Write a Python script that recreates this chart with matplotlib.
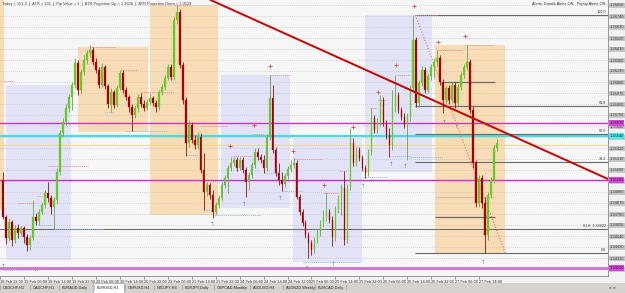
import numpy as np
import matplotlib.pyplot as plt
from matplotlib.patches import Rectangle

plt.rcParams['font.family'] = ['Liberation Sans', 'DejaVu Sans']

# EURUSD H1 candles (one per hour, oldest first)
opens = [1.3510, 1.3473, 1.3452, 1.3468, 1.3450, 1.3462, 1.3457, 1.3462, 1.3453, 1.3445,
         1.3452, 1.3473, 1.3469, 1.3478, 1.3485, 1.3497, 1.3492, 1.3483, 1.3490, 1.3518,
         1.3557, 1.3568, 1.3582, 1.3593, 1.3605, 1.3627, 1.3600, 1.3618, 1.3630, 1.3637,
         1.3640, 1.3628, 1.3620, 1.3605, 1.3623, 1.3604, 1.3586, 1.3598, 1.3585, 1.3602,
         1.3617, 1.3600, 1.3593, 1.3583, 1.3575, 1.3582, 1.3593, 1.3586, 1.3582, 1.3588,
         1.3592, 1.3587, 1.3583, 1.3598, 1.3603, 1.3612, 1.3623, 1.3613, 1.3670, 1.3678,
         1.3625, 1.3590, 1.3547, 1.3565, 1.3550, 1.3545, 1.3553, 1.3520, 1.3498, 1.3505,
         1.3495, 1.3478, 1.3485, 1.3492, 1.3505, 1.3512, 1.3522, 1.3527, 1.3530, 1.3522,
         1.3530, 1.3520, 1.3508, 1.3515, 1.3525, 1.3538, 1.3533, 1.3530, 1.3522, 1.3553,
         1.3592, 1.3540, 1.3517, 1.3510, 1.3506, 1.3514, 1.3521, 1.3525, 1.3527, 1.3493,
         1.3478, 1.3467, 1.3455, 1.3447, 1.3440, 1.3450, 1.3457, 1.3467, 1.3473, 1.3478,
         1.3470, 1.3453, 1.3480, 1.3492, 1.3502, 1.3450, 1.3503, 1.3547, 1.3527, 1.3540,
         1.3532, 1.3522, 1.3517, 1.3538, 1.3572, 1.3560, 1.3567, 1.3590, 1.3567, 1.3555,
         1.3545, 1.3583, 1.3595, 1.3580, 1.3573, 1.3565, 1.3573, 1.3602, 1.3650, 1.3587,
         1.3607, 1.3620, 1.3600, 1.3614, 1.3623, 1.3628, 1.3632, 1.3608, 1.3590, 1.3602,
         1.3590, 1.3605, 1.3587, 1.3603, 1.3615, 1.3623, 1.3628, 1.3580, 1.3527, 1.3487,
         1.3512, 1.3487, 1.3455, 1.3495, 1.3510, 1.3542]
highs = [1.3518, 1.3475, 1.3472, 1.3470, 1.3465, 1.3466, 1.3464, 1.3464, 1.3456, 1.3455,
         1.3490, 1.3477, 1.3481, 1.3488, 1.3500, 1.3508, 1.3495, 1.3493, 1.3522, 1.3560,
         1.3572, 1.3586, 1.3596, 1.3608, 1.3632, 1.3630, 1.3621, 1.3635, 1.3640, 1.3645,
         1.3643, 1.3632, 1.3623, 1.3627, 1.3625, 1.3606, 1.3602, 1.3600, 1.3605, 1.3620,
         1.3620, 1.3603, 1.3595, 1.3586, 1.3585, 1.3596, 1.3597, 1.3590, 1.3591, 1.3596,
         1.3594, 1.3590, 1.3600, 1.3606, 1.3615, 1.3626, 1.3626, 1.3673, 1.3685, 1.3681,
         1.3628, 1.3593, 1.3570, 1.3568, 1.3555, 1.3558, 1.3557, 1.3537, 1.3508, 1.3507,
         1.3500, 1.3488, 1.3495, 1.3508, 1.3515, 1.3525, 1.3533, 1.3533, 1.3533, 1.3533,
         1.3533, 1.3523, 1.3518, 1.3528, 1.3542, 1.3542, 1.3536, 1.3535, 1.3556, 1.3615,
         1.3605, 1.3543, 1.3527, 1.3518, 1.3517, 1.3524, 1.3530, 1.3532, 1.3530, 1.3496,
         1.3481, 1.3470, 1.3458, 1.3450, 1.3453, 1.3460, 1.3470, 1.3480, 1.3498, 1.3481,
         1.3474, 1.3484, 1.3495, 1.3506, 1.3519, 1.3506, 1.3562, 1.3552, 1.3543, 1.3543,
         1.3535, 1.3525, 1.3541, 1.3582, 1.3575, 1.3572, 1.3595, 1.3593, 1.3570, 1.3562,
         1.3600, 1.3615, 1.3598, 1.3583, 1.3577, 1.3577, 1.3605, 1.3675, 1.3653, 1.3610,
         1.3624, 1.3623, 1.3617, 1.3626, 1.3632, 1.3640, 1.3635, 1.3611, 1.3605, 1.3605,
         1.3608, 1.3608, 1.3606, 1.3618, 1.3626, 1.3645, 1.3631, 1.3584, 1.3530, 1.3515,
         1.3515, 1.3493, 1.3498, 1.3513, 1.3545, 1.3551]
lows = [1.3471, 1.3446, 1.3449, 1.3444, 1.3447, 1.3452, 1.3454, 1.3447, 1.3439, 1.3440,
        1.3450, 1.3465, 1.3465, 1.3476, 1.3482, 1.3488, 1.3476, 1.3461, 1.3486, 1.3515,
        1.3554, 1.3565, 1.3578, 1.3580, 1.3602, 1.3595, 1.3597, 1.3615, 1.3626, 1.3633,
        1.3625, 1.3617, 1.3602, 1.3603, 1.3601, 1.3582, 1.3578, 1.3582, 1.3583, 1.3600,
        1.3597, 1.3590, 1.3578, 1.3559, 1.3572, 1.3578, 1.3583, 1.3579, 1.3580, 1.3586,
        1.3584, 1.3578, 1.3580, 1.3595, 1.3600, 1.3610, 1.3610, 1.3610, 1.3666, 1.3622,
        1.3586, 1.3534, 1.3543, 1.3547, 1.3541, 1.3541, 1.3517, 1.3480, 1.3494, 1.3491,
        1.3472, 1.3476, 1.3482, 1.3489, 1.3502, 1.3497, 1.3519, 1.3524, 1.3519, 1.3520,
        1.3517, 1.3493, 1.3500, 1.3512, 1.3522, 1.3530, 1.3527, 1.3517, 1.3519, 1.3550,
        1.3537, 1.3514, 1.3505, 1.3499, 1.3503, 1.3511, 1.3518, 1.3522, 1.3491, 1.3475,
        1.3464, 1.3452, 1.3432, 1.3435, 1.3437, 1.3447, 1.3454, 1.3463, 1.3469, 1.3467,
        1.3444, 1.3449, 1.3477, 1.3475, 1.3445, 1.3447, 1.3500, 1.3524, 1.3524, 1.3529,
        1.3519, 1.3512, 1.3514, 1.3535, 1.3557, 1.3557, 1.3564, 1.3564, 1.3551, 1.3533,
        1.3540, 1.3578, 1.3577, 1.3570, 1.3562, 1.3530, 1.3569, 1.3598, 1.3583, 1.3583,
        1.3604, 1.3597, 1.3597, 1.3610, 1.3612, 1.3624, 1.3605, 1.3577, 1.3587, 1.3586,
        1.3587, 1.3582, 1.3584, 1.3600, 1.3612, 1.3620, 1.3577, 1.3522, 1.3483, 1.3483,
        1.3482, 1.3437, 1.3450, 1.3492, 1.3507, 1.3539]
closes = [1.3473, 1.3452, 1.3468, 1.3450, 1.3462, 1.3457, 1.3462, 1.3453, 1.3445, 1.3452,
          1.3473, 1.3469, 1.3478, 1.3485, 1.3497, 1.3492, 1.3483, 1.3490, 1.3518, 1.3557,
          1.3568, 1.3582, 1.3593, 1.3605, 1.3627, 1.3600, 1.3618, 1.3630, 1.3637, 1.3640,
          1.3628, 1.3620, 1.3605, 1.3623, 1.3604, 1.3586, 1.3598, 1.3585, 1.3602, 1.3617,
          1.3600, 1.3593, 1.3583, 1.3575, 1.3582, 1.3593, 1.3586, 1.3582, 1.3588, 1.3592,
          1.3587, 1.3583, 1.3598, 1.3603, 1.3612, 1.3623, 1.3613, 1.3670, 1.3678, 1.3625,
          1.3590, 1.3547, 1.3565, 1.3550, 1.3545, 1.3553, 1.3520, 1.3498, 1.3505, 1.3495,
          1.3478, 1.3485, 1.3492, 1.3505, 1.3512, 1.3522, 1.3527, 1.3530, 1.3522, 1.3530,
          1.3520, 1.3508, 1.3515, 1.3525, 1.3538, 1.3533, 1.3530, 1.3522, 1.3553, 1.3592,
          1.3540, 1.3517, 1.3510, 1.3506, 1.3514, 1.3521, 1.3525, 1.3527, 1.3493, 1.3478,
          1.3467, 1.3455, 1.3447, 1.3440, 1.3450, 1.3457, 1.3467, 1.3473, 1.3478, 1.3470,
          1.3453, 1.3480, 1.3492, 1.3502, 1.3450, 1.3503, 1.3547, 1.3527, 1.3540, 1.3532,
          1.3522, 1.3517, 1.3538, 1.3572, 1.3560, 1.3567, 1.3590, 1.3567, 1.3555, 1.3545,
          1.3583, 1.3595, 1.3580, 1.3573, 1.3565, 1.3573, 1.3602, 1.3650, 1.3587, 1.3607,
          1.3620, 1.3600, 1.3614, 1.3623, 1.3628, 1.3632, 1.3608, 1.3590, 1.3602, 1.3590,
          1.3605, 1.3587, 1.3603, 1.3615, 1.3623, 1.3628, 1.3580, 1.3527, 1.3487, 1.3512,
          1.3487, 1.3455, 1.3495, 1.3510, 1.3542, 1.3547]

# daily session boxes (bar from, bar to, top, bottom, kind)
box_from = [-1.0, 1.0, 25.0, 49.0, 72.7, 96.7, 120.7, 144.3]
box_to = [0.3, 22.7, 48.3, 71.7, 95.7, 120.0, 143.3, 167.7]
box_top = [1.3690, 1.3605, 1.3643, 1.3685, 1.3615, 1.3552, 1.3675, 1.3645]
box_bottom = [1.3480, 1.3430, 1.3558, 1.3475, 1.3482, 1.3428, 1.3518, 1.3437]
box_kind = ['up', 'down', 'up', 'up', 'down', 'down', 'down', 'up']

# horizontal levels across the whole chart
magenta_levels = [1.3567, 1.3510]
cyan_level = 1.3554
yellow_level = 1.3545
pivot_level = 1.3422
full_line_level = 1.3461

# fibonacci retracement drawn from the spike high to the low
fib_start_bar = 137.7
fib_end_bar = 167.7
fib_high = 1.3675
fib_low = 1.3437
fib_names = ['100.0', '61.8', '50.0', '38.2', '0.0']
fib_prices = [1.3675, 1.3584, 1.3556, 1.3528, 1.3437]

# short day levels inside the last box
day_line_prices = [1.3608, 1.3493, 1.3473]
day_line_from = [147.0, 144.3, 144.3]
day_line_to = [164.3, 164.3, 164.3]

# trend line
trend_bars = [69.3, 202.0]
trend_prices = [1.3690, 1.3511]

# fractal marks
up_frac_bars = [75.7, 83.7, 89.0, 96.7, 107.3, 116.7, 125.3, 131.3, 137.3, 145.3, 154.3]
up_frac_prices = [1.3544, 1.3565, 1.3624, 1.3539, 1.3505, 1.3563, 1.3598, 1.3625, 1.3684, 1.3648, 1.3654]
dn_frac_bars = [0.0, 70.0, 80.7, 92.7, 101.7, 110.3, 120.3, 129.7, 134.3, 147.3, 151.3, 160.3]
dn_frac_prices = [1.3423, 1.3466, 1.3485, 1.3491, 1.3421, 1.3426, 1.3504, 1.3526, 1.3524, 1.3567, 1.3563, 1.3427]

# short dashed marks above highs / below lows
hi_mark_from = [0, 5, 11.3, 15, 28.7, 39.3, 46, 57, 66, 76, 83.3, 89.3, 97, 107.3, 112.3, 122.7, 125.3, 131.7, 137.7, 145.3, 154.3]
hi_mark_to = [3.7, 10.3, 13.3, 28.3, 37.7, 45, 57, 62.7, 75, 83.3, 87, 96, 106.7, 111.7, 114.7, 125, 128.3, 136, 145, 153.7, 163.7]
hi_mark_price = [1.3609, 1.3487, 1.3494, 1.3524, 1.3643, 1.3620, 1.3598, 1.3685, 1.3564, 1.3534, 1.3556,
                 1.3615, 1.3531, 1.3497, 1.3519, 1.3582, 1.3590, 1.3615, 1.3675, 1.3640, 1.3645]
lo_mark_from = [0, 12, 17, 33.7, 41, 61, 67, 70, 87, 93.3, 100.3, 120.3, 129.3, 136]
lo_mark_to = [12, 16, 33.7, 37, 55, 65, 69.3, 86, 91.7, 100.3, 119.3, 128.7, 136, 146.7]
lo_mark_price = [1.3420, 1.3465, 1.3461, 1.3578, 1.3559, 1.3535, 1.3480, 1.3475, 1.3517, 1.3499,
                 1.3428, 1.3513, 1.3534, 1.3533]

# time axis
time_bars = [-1, 7, 15, 23, 31, 39, 47, 55, 63, 71, 79, 87, 95, 103, 111, 119, 127, 135, 143, 151, 159]
time_labels = ['18 Feb 22:00', '19 Feb 06:00', '19 Feb 14:00', '19 Feb 22:00', '20 Feb 06:00',
               '20 Feb 14:00', '20 Feb 22:00', '21 Feb 06:00', '21 Feb 14:00', '21 Feb 22:00',
               '24 Feb 06:00', '24 Feb 14:00', '24 Feb 22:00', '25 Feb 06:00', '25 Feb 14:00',
               '25 Feb 22:00', '26 Feb 06:00', '26 Feb 14:00', '26 Feb 22:00', '27 Feb 06:00',
               '27 Feb 14:00']
price_grid = [round(1.3685 - 0.0011 * k, 4) for k in range(25)]

tabs = ['USDCHF,H1', 'CADCHF,H1', 'EURAUD,Daily', 'EURUSD,H1', 'GBPUSD,H4', 'NZDJPY,H4',
        'EURJPY,Daily', 'GBPCAD,Monthly', 'AUDUSD,H4', 'AUDNZD,Weekly', 'EURCAD,Daily']
tab_x = [3, 33, 62, 97, 128, 157, 185, 217, 253, 286, 318]
info_text = ('Today = 151.2  |  ATR = 135  |  Pip Value = 1  |  '
             'ATR Projection Up = 1.3606  |  ATR Projection Down = 1.3529')
alert_text = 'Alerts: Emails Alerts ON.  Popup Alerts ON.'

W, H = 625, 293
fig = plt.figure(figsize=(W / 100, H / 100), dpi=100, facecolor='#f2f2f2')
ax = fig.add_axes([0, 17 / H, 608 / W, 276 / H], facecolor='#f6f6f6')
ax.set_xlim(-0.67, 202)
ax.set_ylim(1.3414, 1.3690)

box_col = {'up': '#f8dcb6', 'down': '#e3e3f8'}
for s, e, t, b, k in zip(box_from, box_to, box_top, box_bottom, box_kind):
    ax.add_patch(Rectangle((s, b), e - s, t - b, facecolor=box_col[k], edgecolor='none', zorder=0.2))

ax.set_yticks(price_grid)
ax.yaxis.tick_right()
ax.set_yticklabels([f'{v:.5f}' for v in price_grid])
ax.tick_params(axis='y', length=0, pad=1.2, labelsize=2.9, labelcolor='#3a3a3a')
for t in ax.get_yticklabels():
    t.set_bbox(dict(facecolor='#c6c6c6', edgecolor='none', pad=0.5))
ax.set_axisbelow(True)
ax.grid(axis='y', linestyle=(0, (1, 2)), color='#b5b5b5', lw=0.5)

ax.set_xticks(time_bars)
ax.set_xticklabels(time_labels)
ax.tick_params(axis='x', length=2, width=0.4, pad=0.8, labelsize=2.8, labelcolor='#333333', color='#555555')
for t in ax.get_xticklabels():
    t.set_ha('left')

for sp in ['top', 'left']:
    ax.spines[sp].set_visible(False)
ax.spines['right'].set_color('#8a8a8a')
ax.spines['bottom'].set_color('#8a8a8a')
ax.spines['right'].set_linewidth(0.6)
ax.spines['bottom'].set_linewidth(0.6)

# levels
for lv in magenta_levels:
    ax.axhline(lv, color='#cc33cc', lw=1.0, zorder=1.5)
ax.axhline(cyan_level, color='#44dede', lw=1.6, zorder=1.5)
ax.axhline(yellow_level, color='#f0d890', lw=0.8, zorder=1.5)
ax.axhline(pivot_level, color='#d070d0', lw=2.0, zorder=1.5)
ax.axhline(full_line_level, color='#707070', lw=0.8, zorder=1.5)

for name, p in zip(fib_names, fib_prices):
    ax.hlines(p, fib_start_bar, 202, color='#6a6a6a', lw=0.8, zorder=1.6)
    ax.text(201.3, p + 0.00008, name, fontsize=2.7, ha='right', va='bottom', color='#333333', zorder=5)
ax.text(201.3, full_line_level + 0.00008, '61.8  1.34622', fontsize=2.7, ha='right', va='bottom',
        color='#333333', zorder=5)
ax.plot([fib_start_bar, fib_end_bar], [fib_high, fib_low], color='#e07070', lw=0.8, ls=':', zorder=1.7)
for p, s, e, c in zip(day_line_prices, day_line_from, day_line_to, ['#6a6a6a', '#d8c4a4', '#6a6a6a']):
    ax.hlines(p, s, e, color=c, lw=0.9, zorder=1.6)

for s, e, p in zip(hi_mark_from, hi_mark_to, hi_mark_price):
    ax.hlines(p, s, e, color='#f08a8a', lw=0.6, linestyles=(0, (1.5, 1)), zorder=1.8)
for s, e, p in zip(lo_mark_from, lo_mark_to, lo_mark_price):
    ax.hlines(p, s, e, color='#88c0dc', lw=0.6, linestyles=(0, (1.5, 1)), zorder=1.8)

# candles
bars = np.arange(len(closes))
o = np.array(opens)
c = np.array(closes)
bull = c >= o
colors = np.where(bull, '#66cc22', '#a80000')
wick_cols = np.where(bull, '#70a050', '#8a1010')
ax.vlines(bars, lows, highs, colors=wick_cols, lw=0.6, zorder=3)
ax.bar(bars, np.maximum(np.abs(c - o), 0.00008), bottom=np.minimum(o, c), width=0.55,
       color=colors, edgecolor=colors, lw=0.2, zorder=3.2)

ax.plot(trend_bars, trend_prices, color='#cc0000', lw=1.4, zorder=4)

ax.scatter(up_frac_bars, up_frac_prices, marker='+', s=5, lw=0.6, color='#e04848', zorder=4.5)
for b, p in zip(dn_frac_bars, dn_frac_prices):
    ax.text(b, p, '\u2191', fontsize=4, color='#6a88c8', ha='center', va='center', zorder=4.5,
            family='DejaVu Sans')

# coloured price labels on the right scale
for lv, fc in [(magenta_levels[0], '#dd44dd'), (magenta_levels[1], '#dd44dd'),
               (cyan_level, '#44eeee'), (pivot_level, '#dd44dd')]:
    ax.text(1.002, lv, f'{lv:.5f}', transform=ax.get_yaxis_transform(), fontsize=2.9,
            color='#222222', ha='left', va='center', clip_on=False,
            bbox=dict(facecolor=fc, edgecolor='none', pad=0.5), zorder=6)

fig.text(2 / W, 1 - 3.5 / H, info_text, fontsize=2.8, color='#444444', va='center', ha='left')
fig.text(606 / W, 1 - 4 / H, alert_text, fontsize=2.8, color='#333333', va='center', ha='right')

# tab bar
fig.add_artist(Rectangle((0, 0), 1, 10 / H, transform=fig.transFigure, facecolor='#d6d3ce',
                         edgecolor='none'))
fig.add_artist(Rectangle((93 / W, 0), 31 / W, 10 / H, transform=fig.transFigure,
                         facecolor='#ffffff', edgecolor='#909090', lw=0.4))
for name, x in zip(tabs, tab_x):
    fig.text(x / W, 5 / H, name, fontsize=2.8, color='#222222', va='center', ha='left')
    fig.text((x - 3) / W, 5 / H, '|', fontsize=3.4, color='#777777', va='center', ha='center')
fig.text(346 / W, 5 / H, '|', fontsize=3.4, color='#777777', va='center', ha='center')
fig.text(612 / W, 5 / H, '\u25c2  \u25b8', fontsize=3.0, color='#555555', va='center', ha='center',
         family='DejaVu Sans')

fig.savefig('out.png', dpi=100, facecolor=fig.get_facecolor())
